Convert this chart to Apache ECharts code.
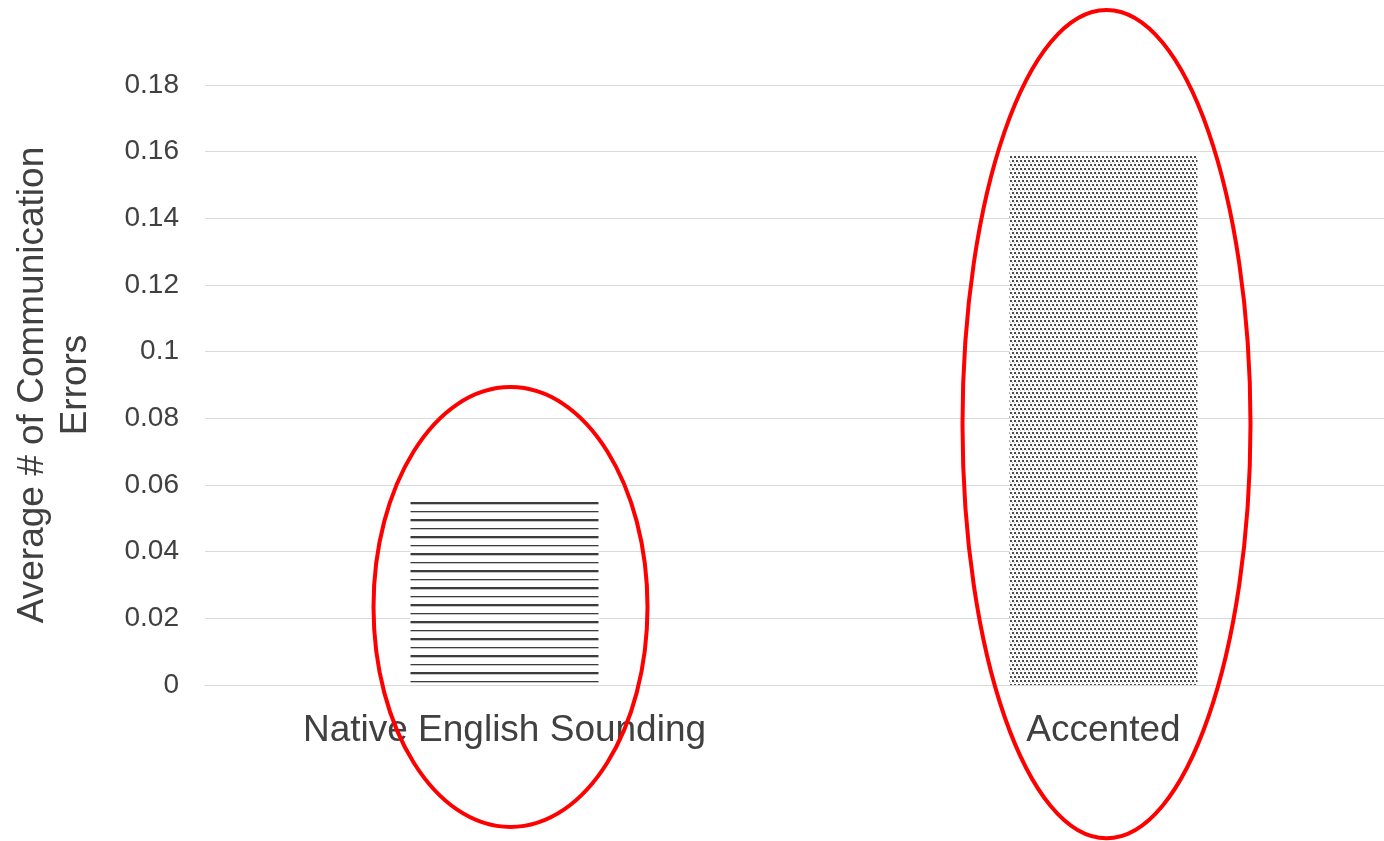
<!DOCTYPE html>
<html>
<head>
<meta charset="utf-8">
<script src="https://cdn.jsdelivr.net/npm/echarts@6/dist/echarts.min.js"></script>
<style>
  html, body { margin: 0; padding: 0; background: #fff; }
  #chart { width: 1384px; height: 841px; }
</style>
</head>
<body>
<div id="chart"></div>
<script>
const categories = ['Native English Sounding', 'Accented'];
const values = [0.0552, 0.159];
const yTicks = [0, 0.02, 0.04, 0.06, 0.08, 0.1, 0.12, 0.14, 0.16, 0.18];
// highlight ellipses around each bar: centre, top and bottom in axis values
const ellipseCenters = [0.0235, 0.0783];
const ellipseTops = [0.0894, 0.2025];
const ellipseBottoms = [-0.0426, -0.046];

// horizontal line pattern, alternating thick and thin
function linePattern() {
  const c = document.createElement('canvas');
  c.width = 8; c.height = 17;
  const ctx = c.getContext('2d');
  ctx.fillStyle = '#fff';
  ctx.fillRect(0, 0, 8, 17);
  ctx.fillStyle = '#3c3c3c';
  ctx.fillRect(0, 9, 8, 2);
  ctx.fillRect(0, 1, 8, 1);
  ctx.fillStyle = '#c4c4c4';
  ctx.fillRect(0, 11, 8, 1);
  ctx.fillRect(0, 2, 8, 1);
  return c;
}

// small dot grid, rows offset
function dotPattern() {
  const c = document.createElement('canvas');
  c.width = 8; c.height = 8;
  const ctx = c.getContext('2d');
  ctx.fillStyle = '#fff';
  ctx.fillRect(0, 0, 8, 8);
  ctx.fillStyle = '#4a4a4a';
  ctx.fillRect(0, 0, 2, 2);
  ctx.fillRect(4, 0, 2, 2);
  ctx.fillRect(2, 4, 2, 2);
  ctx.fillRect(6, 4, 2, 2);
  ctx.fillStyle = '#bdbdbd';
  ctx.fillRect(2, 2, 1, 1);
  ctx.fillRect(6, 2, 1, 1);
  ctx.fillRect(0, 6, 1, 1);
  ctx.fillRect(4, 6, 1, 1);
  return c;
}

const chart = echarts.init(document.getElementById('chart'));
const patterns = [linePattern(), dotPattern()];

const option = {
  animation: false,
  textStyle: { fontFamily: 'Liberation Sans, Arial, sans-serif' },
  grid: { left: 205, right: -19, top: 85, bottom: 156, outerBoundsMode: 'none' },
  xAxis: {
    type: 'category',
    data: categories,
    axisLine: { lineStyle: { color: '#d9d9d9', width: 1 } },
    axisTick: { show: false },
    axisLabel: { color: '#404040', fontSize: 37, margin: 27 }
  },
  yAxis: {
    type: 'value',
    min: 0,
    max: 0.18,
    interval: 0.02,
    name: 'Average # of Communication\nErrors',
    nameLocation: 'middle',
    nameGap: 108,
    nameTextStyle: { color: '#404040', fontSize: 37, lineHeight: 43 },
    axisLine: { show: false },
    axisTick: { show: false },
    axisLabel: {
      color: '#404040',
      fontSize: 28,
      margin: 26,
      padding: [3, 0, 0, 0],
      formatter: function (v) {
        const t = yTicks.find(function (y) { return Math.abs(y - v) < 1e-9; });
        return t === undefined ? '' : String(t);
      }
    },
    splitLine: { lineStyle: { color: '#d9d9d9', width: 1 } }
  },
  series: [{
    type: 'bar',
    barWidth: 188,
    data: values.map(function (v, i) {
      return { value: v, itemStyle: { color: { image: patterns[i], repeat: 'repeat' } } };
    })
  }]
};

chart.setOption(option);

// red highlight ellipses, placed from data coordinates
const xOffsets = [6, 3];
const halfWidths = [137, 144];
const graphics = categories.map(function (cat, i) {
  const c = chart.convertToPixel({ seriesIndex: 0 }, [i, ellipseCenters[i]]);
  const top = chart.convertToPixel({ seriesIndex: 0 }, [i, ellipseTops[i]]);
  const bottom = chart.convertToPixel({ seriesIndex: 0 }, [i, ellipseBottoms[i]]);
  return {
    type: 'ellipse',
    shape: {
      cx: c[0] + xOffsets[i],
      cy: (top[1] + bottom[1]) / 2,
      rx: halfWidths[i],
      ry: (bottom[1] - top[1]) / 2
    },
    style: { fill: null, stroke: '#ff0000', lineWidth: 4 },
    z: 10
  };
});
chart.setOption({ graphic: graphics });
</script>
</body>
</html>
